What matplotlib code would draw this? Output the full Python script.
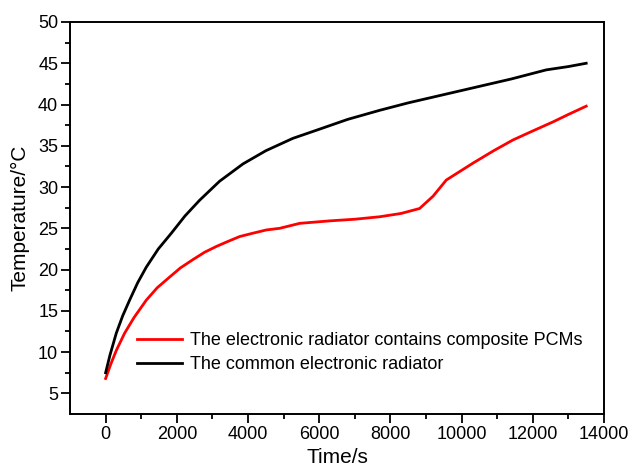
import matplotlib.pyplot as plt

plt.rcParams['font.family'] = 'sans-serif'
plt.rcParams['font.sans-serif'] = ['Liberation Sans', 'DejaVu Sans']
plt.rcParams['font.size'] = 13

# Data
time_pcm = [0, 150, 300, 534, 800, 1143, 1450, 1800, 2100, 2450, 2780, 3110, 3430, 3764,
            4130, 4514, 4890, 5450, 6290, 7000, 7700, 8300, 8820, 9200, 9570, 10320,
            10900, 11440, 12000, 12570, 13000, 13500]
temp_pcm = [6.8, 8.6, 10.2, 12.3, 14.2, 16.3, 17.8, 19.1, 20.2, 21.2, 22.1, 22.8, 23.4, 24.0,
            24.4, 24.8, 25.0, 25.6, 25.9, 26.1, 26.4, 26.8, 27.4, 28.9, 30.85, 32.9,
            34.4, 35.7, 36.8, 37.9, 38.8, 39.8]

time_common = [0, 120, 300, 480, 674, 900, 1143, 1480, 1845, 2230, 2640, 3200, 3857, 4500,
               5260, 6000, 6800, 7700, 8500, 9300, 10500, 11400, 12380, 13000, 13500]
temp_common = [7.5, 9.6, 12.3, 14.4, 16.3, 18.4, 20.3, 22.5, 24.4, 26.5, 28.4, 30.7, 32.8, 34.4,
               35.9, 37.0, 38.2, 39.3, 40.2, 41.0, 42.2, 43.1, 44.2, 44.6, 45.0]

fig = plt.figure(figsize=(6.32, 4.69), dpi=100)
ax = fig.add_axes([0.1108, 0.1173, 0.8449, 0.8358])

ax.plot(time_pcm, temp_pcm, color='#ff0000', lw=2,
        label='The electronic radiator contains composite PCMs')
ax.plot(time_common, temp_common, color='black', lw=2,
        label='The common electronic radiator')

ax.set_xlim(-1000, 14000)
ax.set_ylim(2.5, 50)
ax.set_xticks(range(0, 14001, 2000))
ax.set_xticks(range(1000, 14000, 2000), minor=True)
ax.set_yticks(range(5, 51, 5))
ax.set_yticks([x + 2.5 for x in range(5, 50, 5)], minor=True)
ax.tick_params(which='major', direction='out', length=6.5, width=1.3, labelsize=13,
               pad=2, top=False, right=False)
ax.tick_params(which='minor', direction='out', length=3.6, width=1.3, top=False, right=False)
for spine in ax.spines.values():
    spine.set_linewidth(1.4)

ax.set_xlabel('Time/s', fontsize=15, labelpad=4)
ax.set_ylabel('Temperature/°C', fontsize=15, labelpad=6)

ax.legend(loc='lower left', bbox_to_anchor=(0.112, 0.085), frameon=False, fontsize=13,
          handlelength=2.5, handletextpad=0.45, labelspacing=0.4, borderaxespad=0)

fig.savefig('out.png', dpi=100)
